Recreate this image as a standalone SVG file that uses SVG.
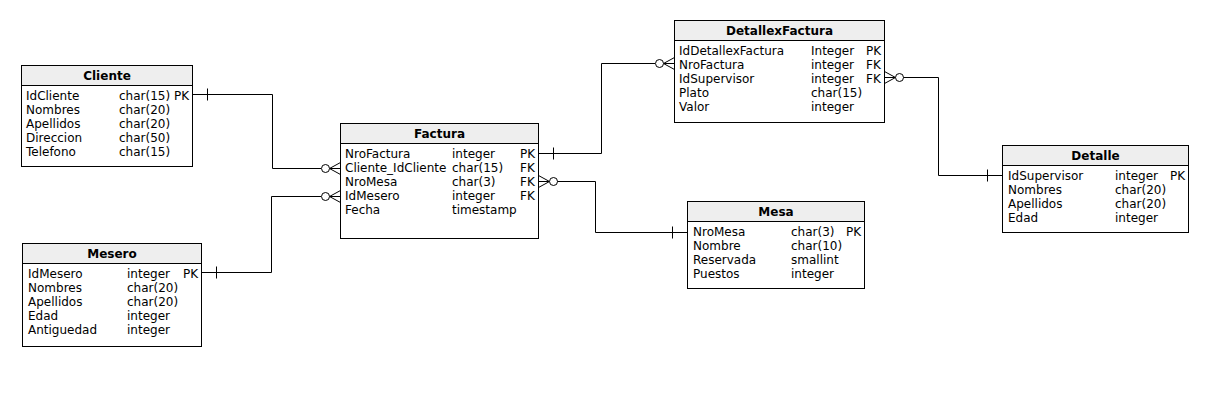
<svg xmlns="http://www.w3.org/2000/svg" xmlns:xlink="http://www.w3.org/1999/xlink" width="1208" height="406" viewBox="0 0 1208 406">
<style>
.box{fill:#ffffff;stroke:#000;stroke-width:1}
.hdr{fill:#eeeeee;stroke:#000;stroke-width:1}
.t{font-family:"DejaVu Sans",sans-serif;font-size:12px;fill:#000}
.h{font-family:"DejaVu Sans",sans-serif;font-size:12px;font-weight:bold;fill:#000;text-anchor:middle}
.ln{fill:none;stroke:#000;stroke-width:1}
.o{fill:#fff;stroke:#000;stroke-width:1}
</style>
<defs>
<g id="crow"><path class="ln" d="M-11,0 L0,-6 M-11,0 L0,0 M-11,0 L0,6"/><circle class="o" cx="-15" cy="0" r="4"/></g>
<g id="tick"><path class="ln" d="M-15,-6 L-15,6"/></g>
</defs>
<rect width="1208" height="406" fill="#fff"/>
<g id="connectors">
<path class="ln" d="M192.5,94.5 H272.5 V168.5 H321"/>
<use xlink:href="#tick" transform="translate(192.5,94.5) scale(-1,1)"/>
<use xlink:href="#crow" transform="translate(340.5,168.5)"/>
<path class="ln" d="M201.5,272.5 H271.5 V196.5 H321"/>
<use xlink:href="#tick" transform="translate(201.5,272.5) scale(-1,1)"/>
<use xlink:href="#crow" transform="translate(340.5,196.5)"/>
<path class="ln" d="M538.5,153.5 H601.5 V63.5 H655"/>
<use xlink:href="#tick" transform="translate(538.5,153.5) scale(-1,1)"/>
<use xlink:href="#crow" transform="translate(674.5,63.5)"/>
<path class="ln" d="M557,181.5 H595.5 V232.5 H687.5"/>
<use xlink:href="#crow" transform="translate(538.5,181.5) scale(-1,1)"/>
<use xlink:href="#tick" transform="translate(687.5,232.5)"/>
<path class="ln" d="M903,77.5 H938.5 V175.5 H1002.5"/>
<use xlink:href="#crow" transform="translate(884.5,77.5) scale(-1,1)"/>
<use xlink:href="#tick" transform="translate(1002.5,175.5)"/>
</g>
<g id="Cliente">
<rect class="box" x="21.5" y="65.5" width="171" height="101"/>
<rect class="hdr" x="21.5" y="65.5" width="171" height="20"/>
<text class="h" x="107" y="80">Cliente</text>
<text class="t" x="26" y="100">IdCliente</text><text class="t" x="119" y="100">char(15) PK</text>
<text class="t" x="26" y="114">Nombres</text><text class="t" x="119" y="114">char(20)</text>
<text class="t" x="26" y="128">Apellidos</text><text class="t" x="119" y="128">char(20)</text>
<text class="t" x="26" y="142">Direccion</text><text class="t" x="119" y="142">char(50)</text>
<text class="t" x="26" y="156">Telefono</text><text class="t" x="119" y="156">char(15)</text>
</g>
<g id="Factura">
<rect class="box" x="340.5" y="123.5" width="198" height="115"/>
<rect class="hdr" x="340.5" y="123.5" width="198" height="20"/>
<text class="h" x="439.5" y="138">Factura</text>
<text class="t" x="345" y="158">NroFactura</text><text class="t" x="452" y="158">integer</text><text class="t" x="520" y="158">PK</text>
<text class="t" x="345" y="172">Cliente_IdCliente</text><text class="t" x="452" y="172">char(15)</text><text class="t" x="520" y="172">FK</text>
<text class="t" x="345" y="186">NroMesa</text><text class="t" x="452" y="186">char(3)</text><text class="t" x="520" y="186">FK</text>
<text class="t" x="345" y="200">IdMesero</text><text class="t" x="452" y="200">integer</text><text class="t" x="520" y="200">FK</text>
<text class="t" x="345" y="214">Fecha</text><text class="t" x="452" y="214">timestamp</text>
</g>
<g id="Mesero">
<rect class="box" x="22.5" y="243.5" width="179" height="103"/>
<rect class="hdr" x="22.5" y="243.5" width="179" height="20"/>
<text class="h" x="112" y="258">Mesero</text>
<text class="t" x="28" y="278">IdMesero</text><text class="t" x="127" y="278">integer</text><text class="t" x="183" y="278">PK</text>
<text class="t" x="28" y="292">Nombres</text><text class="t" x="127" y="292">char(20)</text>
<text class="t" x="28" y="306">Apellidos</text><text class="t" x="127" y="306">char(20)</text>
<text class="t" x="28" y="320">Edad</text><text class="t" x="127" y="320">integer</text>
<text class="t" x="28" y="334">Antiguedad</text><text class="t" x="127" y="334">integer</text>
</g>
<g id="DetallexFactura">
<rect class="box" x="674.5" y="20.5" width="210" height="102"/>
<rect class="hdr" x="674.5" y="20.5" width="210" height="20"/>
<text class="h" x="779.5" y="35">DetallexFactura</text>
<text class="t" x="679" y="55">IdDetallexFactura</text><text class="t" x="811" y="55">Integer</text><text class="t" x="866" y="55">PK</text>
<text class="t" x="679" y="69">NroFactura</text><text class="t" x="811" y="69">integer</text><text class="t" x="866" y="69">FK</text>
<text class="t" x="679" y="83">IdSupervisor</text><text class="t" x="811" y="83">integer</text><text class="t" x="866" y="83">FK</text>
<text class="t" x="679" y="97">Plato</text><text class="t" x="811" y="97">char(15)</text>
<text class="t" x="679" y="111">Valor</text><text class="t" x="811" y="111">integer</text>
</g>
<g id="Mesa">
<rect class="box" x="687.5" y="201.5" width="177" height="87"/>
<rect class="hdr" x="687.5" y="201.5" width="177" height="20"/>
<text class="h" x="776" y="216">Mesa</text>
<text class="t" x="693" y="236">NroMesa</text><text class="t" x="791" y="236">char(3)</text><text class="t" x="846" y="236">PK</text>
<text class="t" x="693" y="250">Nombre</text><text class="t" x="791" y="250">char(10)</text>
<text class="t" x="693" y="264">Reservada</text><text class="t" x="791" y="264">smallint</text>
<text class="t" x="693" y="278">Puestos</text><text class="t" x="791" y="278">integer</text>
</g>
<g id="Detalle">
<rect class="box" x="1002.5" y="145.5" width="186" height="87"/>
<rect class="hdr" x="1002.5" y="145.5" width="186" height="20"/>
<text class="h" x="1095.5" y="160">Detalle</text>
<text class="t" x="1008" y="180">IdSupervisor</text><text class="t" x="1115" y="180">integer</text><text class="t" x="1170" y="180">PK</text>
<text class="t" x="1008" y="194">Nombres</text><text class="t" x="1115" y="194">char(20)</text>
<text class="t" x="1008" y="208">Apellidos</text><text class="t" x="1115" y="208">char(20)</text>
<text class="t" x="1008" y="222">Edad</text><text class="t" x="1115" y="222">integer</text>
</g>
</svg>
